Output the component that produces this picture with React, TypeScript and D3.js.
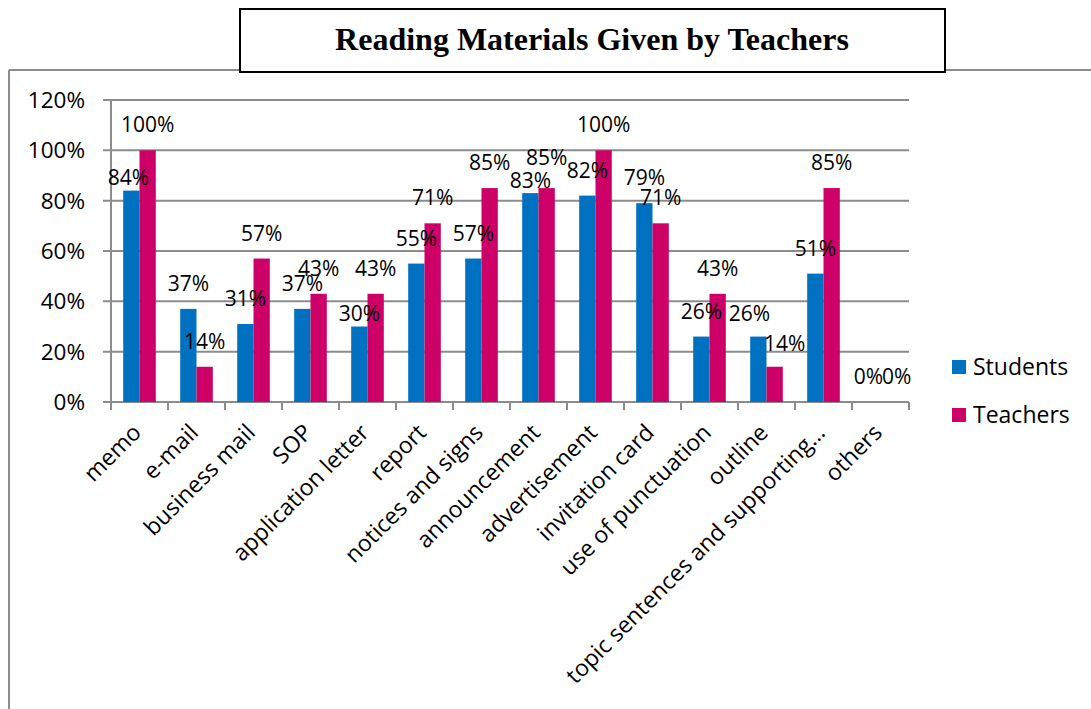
import React from "react";
import * as d3 from "d3";

const categories = [
  "memo", "e-mail", "business mail", "SOP", "application letter", "report",
  "notices and signs", "announcement", "advertisement", "invitation card",
  "use of punctuation", "outline", "topic sentences and supporting…", "others",
];
const students = [0.84, 0.37, 0.31, 0.37, 0.30, 0.55, 0.57, 0.83, 0.82, 0.79, 0.26, 0.26, 0.51, 0];
const teachers = [1.0, 0.14, 0.57, 0.43, 0.43, 0.71, 0.85, 0.85, 1.0, 0.71, 0.43, 0.14, 0.85, 0];
const yTicks = [0, 0.2, 0.4, 0.6, 0.8, 1.0, 1.2];
const seriesNames = ["Students", "Teachers"];
const seriesColors = ["#0070C0", "#CC0066"];
const title = "Reading Materials Given by Teachers";

// label nudges (layout only), relative to default position above each bar
const studentLabelDx = [-3, 0, 0, 0, 0, 0, 0, 0, 0, 0, 0, -9, 0, -4];
const studentLabelDy = [12.4, 0, 0, 0, 12, 0, 0, 13, 0, 0, 0, 2, 0, 0];
const teacherLabelDx = [0, 0, 0, 0, 0, 0, 0, 0, 0, 0, 0, 10, 0, 8];
const teacherLabelDy = [0, 0, 0, 0, 0, 0, 0, -5, 0, 0, 0, 2, 0, 0];

const W = 1091;
const H = 709;
const plotLeft = 111;
const plotRight = 909;
const plotTop = 100;
const plotBottom = 402;
const grid = "#8c8c8c";
const font = "'Open Sans', 'DejaVu Sans', sans-serif";

export default function App() {
  const x0 = d3.scaleBand<string>().domain(categories).range([plotLeft, plotRight]).padding(0);
  const groupW = x0.bandwidth() * 0.572;
  const y = d3.scaleLinear().domain([0, 1.2]).range([plotBottom, plotTop]);
  const fmt = d3.format(".0%");
  const series = [
    { name: seriesNames[0], values: students, color: seriesColors[0], dx: studentLabelDx, dy: studentLabelDy },
    { name: seriesNames[1], values: teachers, color: seriesColors[1], dx: teacherLabelDx, dy: teacherLabelDy },
  ];
  const x1 = d3.scaleBand<number>().domain([0, 1]).range([0, groupW]).padding(0);
  const boundaries = d3.range(categories.length + 1).map((i) => plotLeft + i * x0.bandwidth());

  return (
    <svg width={W} height={H} style={{ position: "absolute", left: 0, top: 0, background: "#fff" }}>
      {/* outer frame */}
      <line x1={9} y1={70} x2={W} y2={70} stroke={grid} strokeWidth={2} />
      <line x1={9} y1={70} x2={9} y2={H} stroke={grid} strokeWidth={2} />
      {/* title box */}
      <rect x={240} y={9} width={705} height={63} fill="#fff" stroke="#000" strokeWidth={2} />
      <text x={592} y={50} textAnchor="middle" fontFamily="'Liberation Serif', 'Times New Roman', serif" fontWeight="bold" fontSize={32}>
        {title}
      </text>
      {/* gridlines */}
      {yTicks.map((t) => (
        <line key={t} x1={plotLeft - 8} x2={plotRight} y1={y(t)} y2={y(t)} stroke={grid} strokeWidth={2} />
      ))}
      {/* y axis */}
      <line x1={plotLeft} x2={plotLeft} y1={plotTop} y2={plotBottom} stroke={grid} strokeWidth={2} />
      {yTicks.map((t) => (
        <text key={"yl" + t} x={85} y={y(t) + 8} textAnchor="end" fontFamily={font} fontSize={22.5} fill="#000">
          {fmt(t)}
        </text>
      ))}
      {/* x ticks */}
      {boundaries.map((b, i) => (
        <line key={"xt" + i} x1={b} x2={b} y1={plotBottom} y2={plotBottom + 8} stroke={grid} strokeWidth={2} />
      ))}
      {/* bars */}
      {categories.map((c, i) => {
        const gx = (x0(c) as number) + (x0.bandwidth() - groupW) / 2;
        return (
          <g key={c}>
            {series.map((s, si) => (
              <rect key={s.name} x={gx + (x1(si) as number)} y={y(s.values[i])} width={x1.bandwidth()}
                height={plotBottom - y(s.values[i])} fill={s.color} />
            ))}
          </g>
        );
      })}
      {/* data labels */}
      {categories.map((c, i) => {
        const gx = (x0(c) as number) + (x0.bandwidth() - groupW) / 2;
        return series.map((s, si) => (
          <text key={c + s.name} x={gx + (x1(si) as number) + x1.bandwidth() / 2 + s.dx[i]}
            y={y(s.values[i]) - 18 + s.dy[i]} textAnchor="middle" fontFamily={font} fontSize={21} fill="#000">
            {fmt(s.values[i])}
          </text>
        ));
      })}
      {/* category labels */}
      {categories.map((c) => {
        const cx = (x0(c) as number) + x0.bandwidth() / 2;
        return (
          <text key={"cl" + c} transform={`translate(${cx + 3},${434}) rotate(-45)`} textAnchor="end"
            fontFamily={font} fontSize={23} fill="#000">
            {c}
          </text>
        );
      })}
      {/* legend */}
      {series.map((s, si) => (
        <g key={"lg" + s.name} transform={`translate(952,${360 + si * 48})`}>
          <rect x={0} y={0} width={14} height={14} fill={s.color} />
          <text x={21} y={15} fontFamily={font} fontSize={23} fill="#000">{s.name}</text>
        </g>
      ))}
    </svg>
  );
}
